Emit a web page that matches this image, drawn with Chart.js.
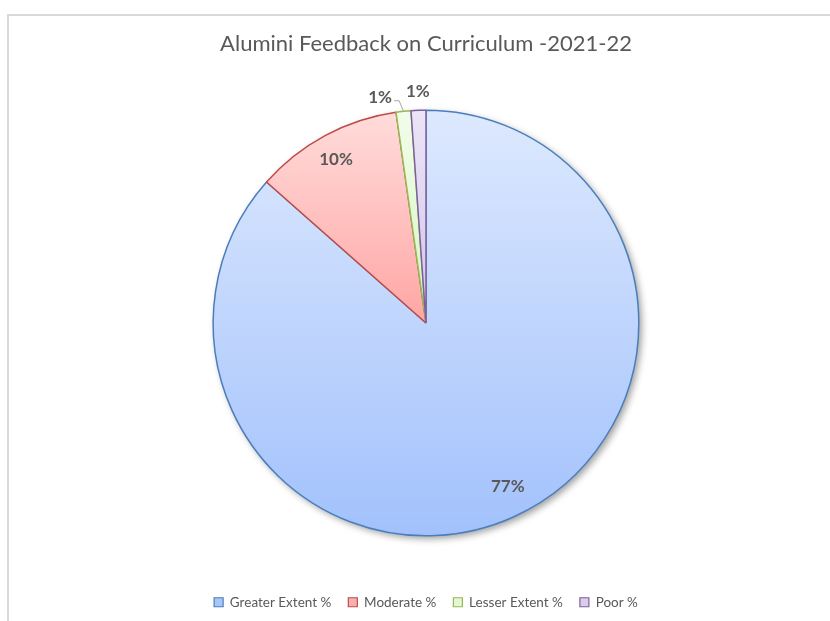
<!DOCTYPE html>
<html>
<head>
<meta charset="utf-8">
<script src="https://cdn.jsdelivr.net/npm/chart.js@4/dist/chart.umd.min.js"></script>
<style>
  html, body { margin: 0; padding: 0; background: #ffffff; }
  #wrap { position: relative; width: 830px; height: 621px; overflow: hidden; background: #ffffff; }
  #frame { position: absolute; left: 7px; top: 14px; width: 900px; height: 700px;
           border-left: 2px solid #d9d9d9; border-top: 2px solid #d9d9d9; box-sizing: border-box; }
  #c { position: absolute; left: 0; top: 0; }
</style>
</head>
<body>
<div id="wrap">
  <div id="frame"></div>
  <canvas id="c" width="830" height="621"></canvas>
</div>
<script>
// Feedback categories and their shares
const categories = ['Greater Extent %', 'Moderate %', 'Lesser Extent %', 'Poor %'];
const values = [77, 10, 1, 1];
const valueLabels = ['77%', '10%', '1%', '1%'];

// Slice styling: gradient top/bottom and outline colours
const fillTop = ['#dde9fe', '#ffdcdb', '#f2fdea', '#ebe5f6'];
const fillBottom = ['#a2c1fc', '#ffa6a4', '#d6f6c0', '#d2c4e8'];
const legendFill = ['#a9c6f8', '#f6b1af', '#e2f7d2', '#d9cdea'];
const borderColors = ['#4a7ebb', '#be4b48', '#98b954', '#7d60a0'];

const FONT = 'Lato, "Open Sans", sans-serif';
const TEXT = '#595959';

// Vertical extent of a slice, used to span each slice's own gradient
function sliceExtent(cy, r, a0, a1) {
  // angles measured clockwise from 12 o'clock, in radians
  const ys = [cy, cy - r * Math.cos(a0), cy - r * Math.cos(a1)];
  const twoPi = Math.PI * 2;
  [0, Math.PI, twoPi].forEach(t => { if (t >= a0 && t <= a1) ys.push(cy - r * Math.cos(t)); });
  return [Math.min(...ys), Math.max(...ys)];
}

function sliceGradient(ctx) {
  const chart = ctx.chart;
  const area = chart.chartArea;
  const i = ctx.dataIndex;
  if (!area || i === undefined) return fillTop[i] || fillTop[0];
  const cx = (area.left + area.right) / 2;
  const cy = (area.top + area.bottom) / 2;
  const r = Math.min(area.right - area.left, area.bottom - area.top) / 2;
  const total = values.reduce((a, b) => a + b, 0);
  let start = 0;
  for (let k = 0; k < i; k++) start += values[k];
  const a0 = start / total * Math.PI * 2;
  const a1 = (start + values[i]) / total * Math.PI * 2;
  const [y0, y1] = sliceExtent(cy, r, a0, a1);
  const g = chart.ctx.createLinearGradient(0, y0, 0, Math.max(y1, y0 + 1));
  g.addColorStop(0, fillTop[i]);
  g.addColorStop(1, fillBottom[i]);
  return g;
}

// Soft drop shadow beneath the whole pie
const pieShadow = {
  id: 'pieShadow',
  beforeDatasetsDraw(chart) {
    const el = chart.getDatasetMeta(0).data[0];
    if (!el) return;
    const ctx = chart.ctx;
    ctx.save();
    ctx.shadowColor = 'rgba(0,0,0,0.38)';
    ctx.shadowBlur = 7;
    ctx.shadowOffsetX = 3;
    ctx.shadowOffsetY = 3;
    ctx.beginPath();
    ctx.arc(el.x, el.y, el.outerRadius, 0, Math.PI * 2);
    ctx.fillStyle = '#ffffff';
    ctx.fill();
    ctx.restore();
  }
};

// Value labels: inside for the big slices, outside for the thin ones
const valueText = {
  id: 'valueText',
  afterDatasetsDraw(chart) {
    const ctx = chart.ctx;
    const els = chart.getDatasetMeta(0).data;
    ctx.save();
    ctx.font = 'bold 17px ' + FONT;
    ctx.fillStyle = TEXT;
    ctx.textAlign = 'center';
    ctx.textBaseline = 'middle';
    els.forEach((el, i) => {
      const mid = (el.startAngle + el.endAngle) / 2;
      const R = el.outerRadius;
      let x, y;
      if (values[i] >= 5) {
        const f = i === 0 ? 0.86 : 0.875;
        const a = i === 0 ? mid - 0.04 : mid - 0.01;
        x = el.x + Math.cos(a) * R * f;
        y = el.y + Math.sin(a) * R * f;
      } else if (i === 2) {
        const a = mid - 0.095;
        x = el.x + Math.cos(a) * (R + 17);
        y = el.y + Math.sin(a) * (R + 17);
        // leader line from the label to the slice edge
        const ex = el.x + Math.cos(mid) * R;
        const ey = el.y + Math.sin(mid) * R;
        ctx.save();
        ctx.strokeStyle = '#a6a6a6';
        ctx.lineWidth = 1;
        ctx.beginPath();
        ctx.moveTo(x + 14, y + 3);
        ctx.lineTo(x + 19, y + 3);
        ctx.lineTo(ex, ey);
        ctx.stroke();
        ctx.restore();
      } else {
        x = el.x + Math.cos(mid) * (R + 19);
        y = el.y + Math.sin(mid) * (R + 19);
      }
      ctx.fillText(valueLabels[i], x, y);
    });
    ctx.restore();
  }
};

new Chart(document.getElementById('c'), {
  type: 'pie',
  data: {
    labels: categories,
    datasets: [{
      data: values,
      backgroundColor: sliceGradient,
      borderColor: borderColors,
      borderWidth: 1.5,
      hoverOffset: 0
    }]
  },
  options: {
    responsive: false,
    animation: false,
    events: [],
    layout: { padding: { left: 22, right: 0, top: 0, bottom: 2 } },
    plugins: {
      tooltip: { enabled: false },
      title: {
        display: true,
        text: 'Alumini Feedback on Curriculum -2021-22',
        color: TEXT,
        font: { family: FONT, size: 22, weight: 'normal', lineHeight: 1.2 },
        padding: { top: 31, bottom: 52 }
      },
      // blank spacer between the pie and the legend
      subtitle: {
        display: true,
        position: 'bottom',
        weight: 500,
        text: '',
        font: { size: 1, lineHeight: 1 },
        padding: { top: 41, bottom: 0 }
      },
      legend: {
        position: 'bottom',
        labels: {
          color: TEXT,
          font: { family: FONT, size: 13.5 },
          boxWidth: 9,
          boxHeight: 9,
          padding: 17,
          generateLabels() {
            return categories.map((c, i) => ({
              text: c,
              fillStyle: legendFill[i],
              strokeStyle: borderColors[i],
              lineWidth: 1.2,
              fontColor: TEXT,
              index: i,
              hidden: false
            }));
          }
        }
      }
    }
  },
  plugins: [pieShadow, valueText]
});
</script>
</body>
</html>
